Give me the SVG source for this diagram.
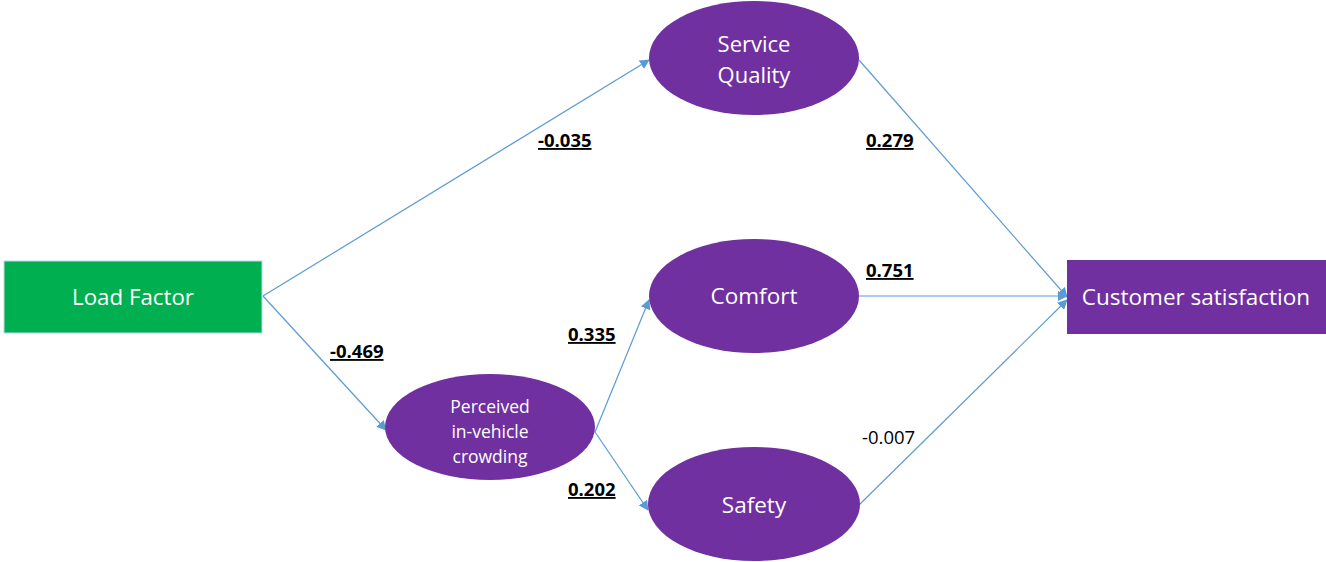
<svg xmlns="http://www.w3.org/2000/svg" width="1326" height="562" viewBox="0 0 1326 562">
  <style>
    .edge { stroke: #5B9BD5; stroke-width: 1.2; fill: none; marker-end: url(#arrow); }
    .latent { fill: #7030A0; }
    .label { font-family: "Open Sans", "Liberation Sans", sans-serif; fill: #FFFFFF; text-anchor: middle; }
    .coef { font-family: "Open Sans", "Liberation Sans", sans-serif; font-size: 18.5px; fill: #000000; }
    .coef.sig { font-weight: bold; text-decoration: underline; }
  </style>
  <defs>
    <marker id="arrow" viewBox="0 0 10 10" refX="9" refY="5" markerWidth="10" markerHeight="10" markerUnits="userSpaceOnUse" orient="auto">
      <path d="M0,0 L10,5 L0,10 Z" fill="#5B9BD5"/>
    </marker>
  </defs>
  <rect width="1326" height="562" fill="#FFFFFF"/>

  <g id="connectors">
    <line class="edge" x1="263" y1="296" x2="649" y2="60"/>
    <line class="edge" x1="263" y1="296" x2="386" y2="430"/>
    <line class="edge" x1="595" y1="432" x2="649" y2="300"/>
    <line class="edge" x1="595" y1="432" x2="648" y2="510"/>
    <line class="edge" x1="859" y1="60" x2="1067" y2="297"/>
    <line class="edge" x1="859" y1="296" x2="1067" y2="296"/>
    <line class="edge" x1="859" y1="505" x2="1067" y2="300"/>
  </g>

  <g id="load-factor">
    <rect x="4" y="261" width="258" height="72" fill="#00B050" stroke="#BDD7EE" stroke-width="1"/>
    <text class="label" x="133" y="305" font-size="22.3">Load Factor</text>
  </g>

  <g id="service-quality">
    <ellipse class="latent" cx="754" cy="58" rx="105" ry="57"/>
    <text class="label" x="754" y="52" font-size="22">Service</text>
    <text class="label" x="754" y="83" font-size="22">Quality</text>
  </g>

  <g id="comfort">
    <ellipse class="latent" cx="754" cy="296" rx="105" ry="57"/>
    <text class="label" x="754" y="304" font-size="22.5">Comfort</text>
  </g>

  <g id="safety">
    <ellipse class="latent" cx="754" cy="504" rx="106" ry="57"/>
    <text class="label" x="754" y="513" font-size="22.5">Safety</text>
  </g>

  <g id="perceived-crowding">
    <ellipse class="latent" cx="490" cy="427" rx="105" ry="53"/>
    <text class="label" x="490" y="413" font-size="17.5">Perceived</text>
    <text class="label" x="490" y="438" font-size="17.5">in-vehicle</text>
    <text class="label" x="490" y="463" font-size="17.5">crowding</text>
  </g>

  <g id="customer-satisfaction">
    <rect x="1067" y="260" width="259" height="74" fill="#7030A0"/>
    <text class="label" x="1196" y="305" font-size="22.5">Customer satisfaction</text>
  </g>

  <g id="coefficients">
    <text class="coef sig" x="538" y="147">-0.035</text>
    <text class="coef sig" x="866" y="147">0.279</text>
    <text class="coef sig" x="866" y="277">0.751</text>
    <text class="coef sig" x="568" y="341">0.335</text>
    <text class="coef sig" x="330" y="358">-0.469</text>
    <text class="coef sig" x="568" y="496">0.202</text>
    <text class="coef" x="862" y="444">-0.007</text>
  </g>
</svg>
